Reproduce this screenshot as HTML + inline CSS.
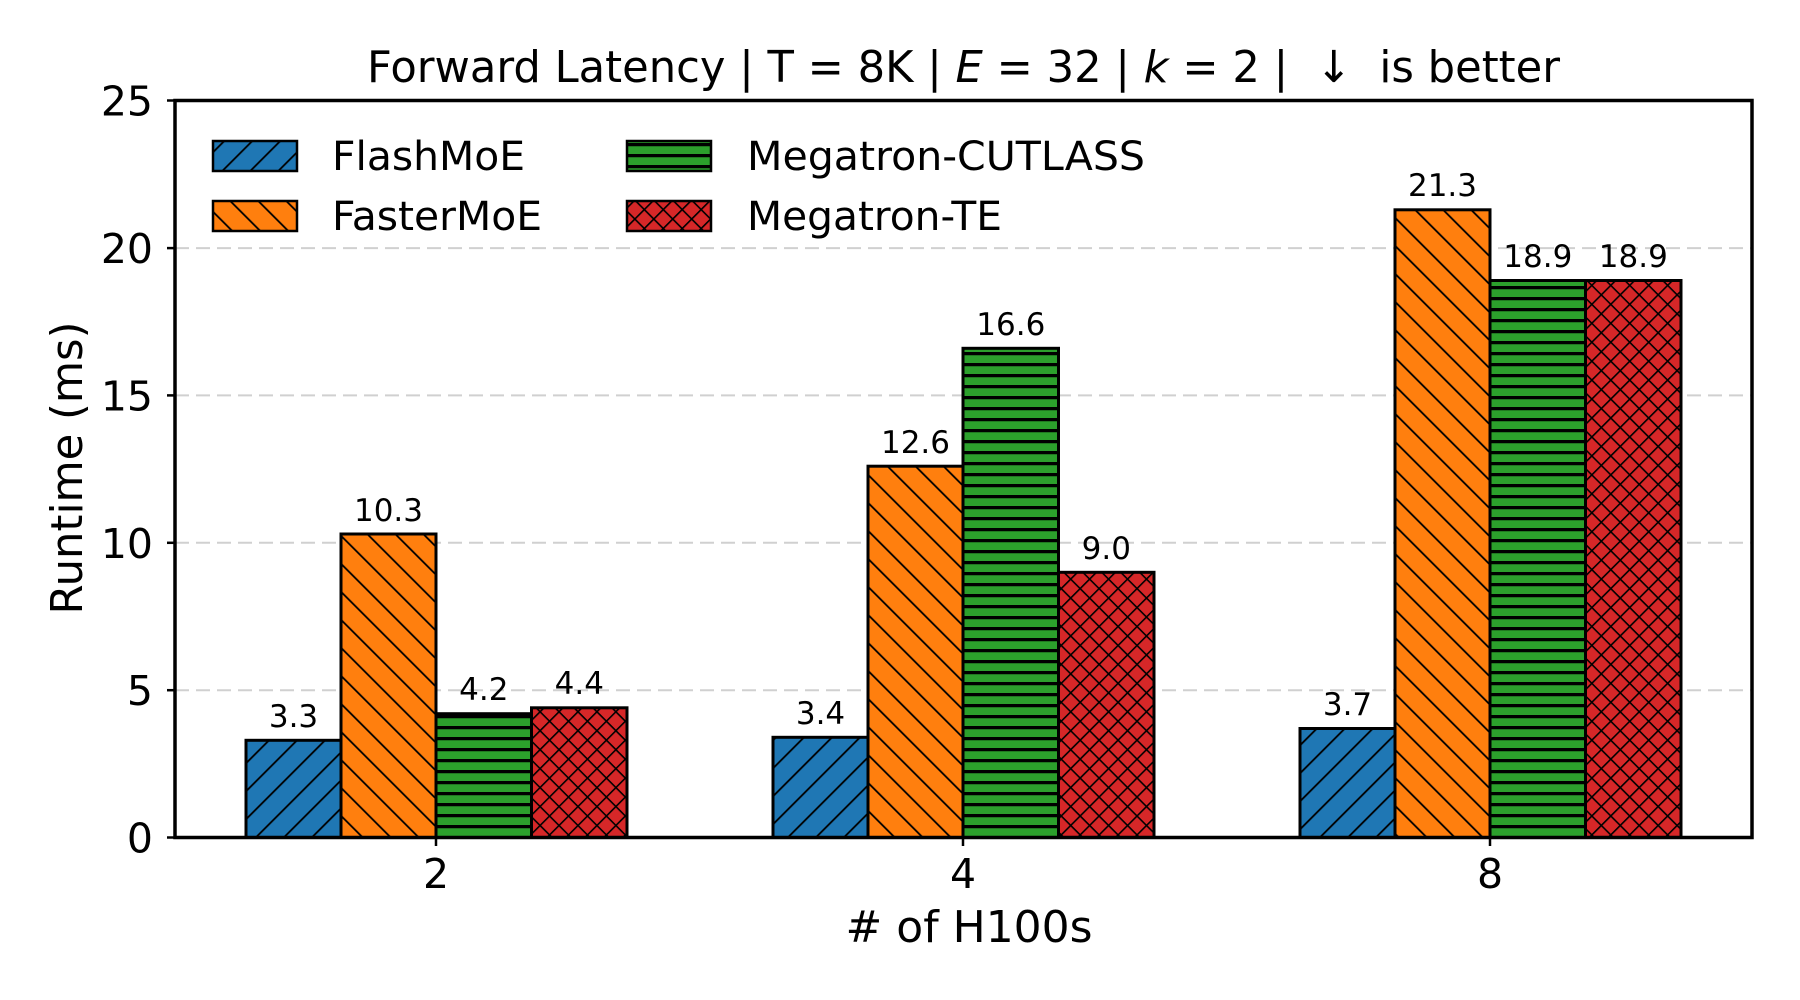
<!DOCTYPE html>
<html><head><meta charset="utf-8"><style>
html,body{margin:0;padding:0;background:#fff;}
svg{display:block;font-family:"DejaVu Sans","Liberation Sans",sans-serif;}
</style></head><body>
<svg width="1800" height="1000" viewBox="0 0 1800 1000" xmlns="http://www.w3.org/2000/svg">
<defs>
<pattern id="hb" patternUnits="userSpaceOnUse" width="19.8" height="19.8" patternTransform="rotate(45)">
<rect width="19.8" height="19.8" fill="#1f77b4"/><line x1="0" y1="0" x2="0" y2="19.8" stroke="#000" stroke-width="3.6"/></pattern>
<pattern id="ho" patternUnits="userSpaceOnUse" width="19.8" height="19.8" patternTransform="rotate(-45)">
<rect width="19.8" height="19.8" fill="#ff7f0e"/><line x1="0" y1="0" x2="0" y2="19.8" stroke="#000" stroke-width="3.6"/></pattern>
<pattern id="hg" patternUnits="userSpaceOnUse" width="20" height="11">
<rect width="20" height="11" fill="#2ca02c"/><line x1="0" y1="1.5" x2="20" y2="1.5" stroke="#000" stroke-width="3.6"/></pattern>
<pattern id="hr" patternUnits="userSpaceOnUse" width="13.4" height="13.4" patternTransform="rotate(45)">
<rect width="13.4" height="13.4" fill="#d62728"/><line x1="0" y1="0" x2="0" y2="13.4" stroke="#000" stroke-width="3.2"/><line x1="0" y1="0" x2="13.4" y2="0" stroke="#000" stroke-width="3.2"/></pattern>
</defs>

<g stroke="#d0d0d0" stroke-width="2" stroke-dasharray="14,7">
<line x1="175" y1="690.2" x2="1752" y2="690.2"/>
<line x1="175" y1="542.8" x2="1752" y2="542.8"/>
<line x1="175" y1="395.4" x2="1752" y2="395.4"/>
<line x1="175" y1="248.1" x2="1752" y2="248.1"/>
</g>

<g stroke="#000" stroke-width="3">
<rect x="246" y="740.3" width="95" height="97.2" fill="url(#hb)"/>
<rect x="341" y="534" width="95" height="303.5" fill="url(#ho)"/>
<rect x="436" y="713.7" width="95.5" height="123.8" fill="url(#hg)"/>
<rect x="531.5" y="707.8" width="95.5" height="129.7" fill="url(#hr)"/>
<rect x="773" y="737.3" width="95" height="100.2" fill="url(#hb)"/>
<rect x="868" y="466.2" width="95" height="371.3" fill="url(#ho)"/>
<rect x="963" y="348.3" width="95.5" height="489.2" fill="url(#hg)"/>
<rect x="1058.5" y="572.3" width="95.5" height="265.2" fill="url(#hr)"/>
<rect x="1300" y="728.5" width="95" height="109" fill="url(#hb)"/>
<rect x="1395" y="209.8" width="95" height="627.7" fill="url(#ho)"/>
<rect x="1490" y="280.5" width="95.5" height="557" fill="url(#hg)"/>
<rect x="1585.5" y="280.5" width="95.5" height="557" fill="url(#hr)"/>
</g>

<g font-size="31" text-anchor="middle" fill="#000">
<text x="293.5" y="727">3.3</text>
<text x="388.5" y="521">10.3</text>
<text x="483.8" y="700">4.2</text>
<text x="579.3" y="694">4.4</text>
<text x="820.5" y="724">3.4</text>
<text x="915.5" y="453">12.6</text>
<text x="1010.8" y="335">16.6</text>
<text x="1106.3" y="559">9.0</text>
<text x="1347.5" y="715">3.7</text>
<text x="1442.5" y="196">21.3</text>
<text x="1537.8" y="267">18.9</text>
<text x="1633.3" y="267">18.9</text>
</g>

<rect x="175" y="100.5" width="1577" height="737" fill="none" stroke="#000" stroke-width="3.5"/>

<g stroke="#000" stroke-width="2.5">
<line x1="167" y1="837.5" x2="175" y2="837.5"/>
<line x1="167" y1="690.2" x2="175" y2="690.2"/>
<line x1="167" y1="542.8" x2="175" y2="542.8"/>
<line x1="167" y1="395.4" x2="175" y2="395.4"/>
<line x1="167" y1="248.1" x2="175" y2="248.1"/>
<line x1="167" y1="100.5" x2="175" y2="100.5"/>
<line x1="436" y1="837.5" x2="436" y2="846"/>
<line x1="963" y1="837.5" x2="963" y2="846"/>
<line x1="1490" y1="837.5" x2="1490" y2="846"/>
</g>
<g font-size="41" text-anchor="end" fill="#000">
<text x="153" y="852.5">0</text>
<text x="153" y="705.2">5</text>
<text x="153" y="557.8">10</text>
<text x="153" y="410.4">15</text>
<text x="153" y="263.1">20</text>
<text x="153" y="115.5">25</text>
</g>
<g font-size="41" text-anchor="middle" fill="#000">
<text x="436" y="888">2</text>
<text x="963" y="888">4</text>
<text x="1490" y="888">8</text>
</g>

<text x="969" y="942" font-size="44" text-anchor="middle" textLength="247" lengthAdjust="spacingAndGlyphs"># of H100s</text>
<text transform="translate(82,468) rotate(-90)" font-size="44" text-anchor="middle" textLength="293" lengthAdjust="spacingAndGlyphs">Runtime (ms)</text>

<text x="367" y="82" font-size="44" textLength="1193" lengthAdjust="spacingAndGlyphs" xml:space="preserve">Forward Latency | T = 8K | <tspan font-style="italic">E</tspan> = 32 | <tspan font-style="italic">k</tspan> = 2 |  ↓  is better</text>

<g stroke="#000" stroke-width="2.5">
<rect x="213" y="141" width="84" height="30" fill="url(#hb)"/>
<rect x="213" y="201" width="84" height="30" fill="url(#ho)"/>
<rect x="627" y="141" width="84" height="30" fill="url(#hg)"/>
<rect x="627" y="201" width="84" height="30" fill="url(#hr)"/>
</g>
<g font-size="40" fill="#000">
<text x="332" y="170" textLength="193" lengthAdjust="spacingAndGlyphs">FlashMoE</text>
<text x="332" y="230" textLength="210" lengthAdjust="spacingAndGlyphs">FasterMoE</text>
<text x="747" y="170" textLength="398" lengthAdjust="spacingAndGlyphs">Megatron-CUTLASS</text>
<text x="747" y="230" textLength="255" lengthAdjust="spacingAndGlyphs">Megatron-TE</text>
</g>
</svg>
</body></html>
